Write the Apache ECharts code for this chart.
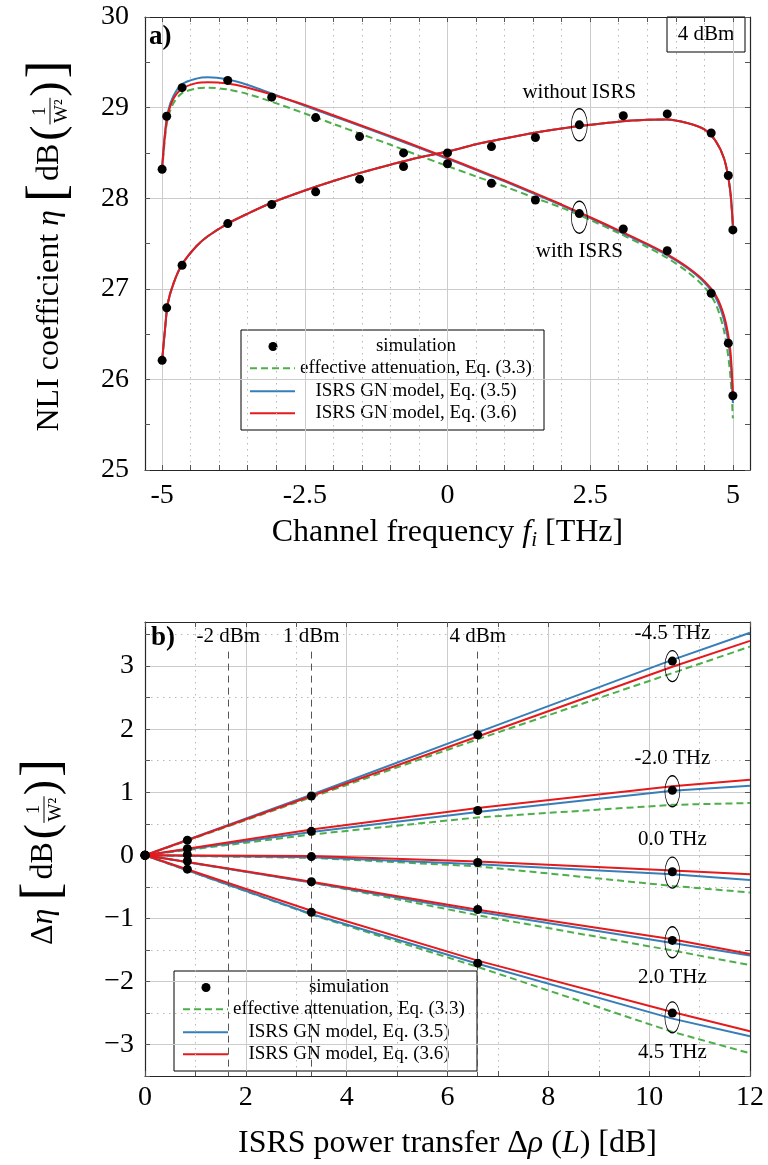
<!DOCTYPE html>
<html>
<head>
<meta charset="utf-8">
<script src="https://cdn.jsdelivr.net/npm/echarts@6/dist/echarts.min.js"></script>
<style>
  html, body { margin: 0; padding: 0; background: #fff; }
  #chart { width: 768px; height: 1165px; }
</style>
</head>
<body>
<div id="chart"></div>
<script>
// ---------- panel a): NLI coefficient vs channel frequency ----------
const freqTicks = [-5, -2.5, 0, 2.5, 5];
const freqSim = [-5, -4.92, -4.65, -3.85, -3.08, -2.31, -1.54, -0.77, 0, 0.77, 1.54, 2.31, 3.08, 3.85, 4.62, 4.92, 5];
const simWithIsrs = [28.32, 28.905, 29.22, 29.30, 29.115, 28.89, 28.68, 28.50, 28.38, 28.165, 27.98, 27.83, 27.66, 27.42, 26.95, 26.40, 25.82];
const simWithoutIsrs = [26.21, 26.79, 27.26, 27.72, 27.93, 28.07, 28.21, 28.35, 28.50, 28.57, 28.67, 28.81, 28.91, 28.93, 28.72, 28.25, 27.65];

const freqModel = [-5, -4.95, -4.9, -4.8, -4.65, -4.4, -4.2, -3.85, -3.5, -3.08, -2.5, -2, -1.5, -1, -0.5, 0, 0.5, 1, 1.5, 2, 2.5, 3, 3.5, 3.85, 4.2, 4.5, 4.7, 4.85, 4.95, 5];
const effWith = [28.30, 28.66, 28.88, 29.05, 29.16, 29.21, 29.22, 29.20, 29.15, 29.065, 28.935, 28.82, 28.705, 28.59, 28.47, 28.355, 28.24, 28.13, 28.01, 27.895, 27.76, 27.615, 27.46, 27.34, 27.19, 27.02, 26.83, 26.52, 26.08, 25.57];
const gn35With = [28.35, 28.72, 28.95, 29.13, 29.26, 29.32, 29.335, 29.31, 29.25, 29.155, 29.02, 28.905, 28.79, 28.675, 28.555, 28.435, 28.31, 28.185, 28.055, 27.92, 27.78, 27.635, 27.485, 27.37, 27.23, 27.07, 26.90, 26.64, 26.28, 25.74];
const gn36With = [28.33, 28.70, 28.92, 29.10, 29.21, 29.27, 29.28, 29.265, 29.22, 29.145, 29.03, 28.915, 28.80, 28.685, 28.565, 28.445, 28.32, 28.195, 28.065, 27.93, 27.79, 27.645, 27.495, 27.38, 27.24, 27.085, 26.93, 26.69, 26.35, 25.86];
const modelWithout = [26.21, 26.55, 26.84, 27.06, 27.27, 27.47, 27.58, 27.72, 27.83, 27.95, 28.085, 28.19, 28.285, 28.37, 28.45, 28.515, 28.595, 28.66, 28.72, 28.77, 28.81, 28.845, 28.865, 28.87, 28.83, 28.76, 28.63, 28.43, 28.10, 27.70];

const annotA = [
  { name: 'without ISRS', value: [2.31, 29.17] },
  { name: 'with ISRS', value: [2.31, 27.41] }
];
const ringsA = [[2.31, 28.81], [2.31, 27.79]];

// ---------- panel b): NLI change vs ISRS power transfer ----------
const rhoSim = [0, 0.84, 3.3, 6.6, 10.46];
const rhoModel = [0, 3.3, 6.6, 10.46, 12];
const powerNames = ['-2 dBm', '1 dBm', '4 dBm'];
const powerRho = [1.65, 3.3, 6.6];

const simM45 = [0, 0.24, 0.94, 1.91, 3.08];
const simM20 = [0, 0.105, 0.38, 0.71, 1.03];
const simZ00 = [0, 0.01, -0.02, -0.115, -0.26];
const simP20 = [0, -0.09, -0.42, -0.86, -1.35];
const simP45 = [0, -0.22, -0.905, -1.71, -2.50];

const effM45 = [0, 0.92, 1.84, 2.89, 3.31];
const effM20 = [0, 0.33, 0.60, 0.80, 0.83];
const effZ00 = [0, -0.04, -0.175, -0.485, -0.59];
const effP20 = [0, -0.43, -0.95, -1.51, -1.74];
const effP45 = [0, -0.94, -1.77, -2.80, -3.14];

const gn35M45 = [0, 0.96, 1.95, 3.10, 3.53];
const gn35M20 = [0, 0.37, 0.685, 1.025, 1.105];
const gn35Z00 = [0, -0.03, -0.14, -0.30, -0.39];
const gn35P20 = [0, -0.43, -0.895, -1.39, -1.59];
const gn35P45 = [0, -0.93, -1.72, -2.59, -2.87];

const gn36M45 = [0, 0.94, 1.885, 2.99, 3.40];
const gn36M20 = [0, 0.41, 0.75, 1.095, 1.20];
const gn36Z00 = [0, -0.01, -0.10, -0.24, -0.30];
const gn36P20 = [0, -0.42, -0.865, -1.33, -1.565];
const gn36P45 = [0, -0.88, -1.67, -2.485, -2.79];

const channelNames = ['-4.5 THz', '-2.0 THz', '0.0 THz', '2.0 THz', '4.5 THz'];
const channelLabelY = [3.52, 1.53, 0.25, -1.93, -3.12];
const channelRingY = [3.0, 1.015, -0.275, -1.38, -2.57];
const ringRho = 10.46;
const dEtaTicks = [-3, -2, -1, 0, 1, 2, 3];

const legendNames = ['simulation', 'effective attenuation, Eq. (3.3)', 'ISRS GN model, Eq. (3.5)', 'ISRS GN model, Eq. (3.6)'];

// ---------- styling ----------
const RED = '#e41a1c', BLUE = '#377eb8', GREEN = '#4daf4a';
const SERIF = '"Liberation Serif", "Times New Roman", serif';
const GRID_SOLID = { show: true, lineStyle: { color: '#cccccc', width: 1, type: 'solid' } };
const GRID_DOT = { show: true, lineStyle: { color: '#b8b8b8', width: 1, type: [1.5, 4.5] } };
const AXIS_LINE = { show: true, onZero: false, lineStyle: { color: '#262626', width: 1.2 } };
const NO_LINE = { show: false, onZero: false };
const TICK = { show: true, inside: true, length: 5, lineStyle: { color: '#555', width: 1 } };
const LABEL = { fontSize: 28, fontFamily: SERIF, color: '#000' };
const DASH = [7, 4];

const pairs = (xs, ys) => xs.map((x, i) => [x, ys[i]]);
const range = (a, b, step) => { const out = []; for (let v = a; v <= b + 1e-9; v += step) out.push(Math.round(v * 100) / 100); return out; };
const halfA = range(-5, 5, 0.5);
const minorA = halfA.filter(v => freqTicks.indexOf(v) < 0);
const halfB = range(-3.5, 3.5, 0.5);
const minorB = halfB.filter(v => dEtaTicks.indexOf(v) < 0);
const minus = v => (v < 0 ? '\u2212' + Math.abs(v) : String(v));

const xAxes = [
  // 0: panel a bottom axis with labels
  { gridIndex: 0, type: 'value', min: -5.3, max: 5.3, position: 'bottom',
    axisLine: AXIS_LINE, axisTick: Object.assign({}, TICK, { customValues: halfA }),
    axisLabel: Object.assign({}, LABEL, { customValues: freqTicks, margin: 12, formatter: v => String(v) }),
    splitLine: { show: false },
    name: '{n|Channel frequency }{i|f}{s|i}{n| [THz]}', nameLocation: 'middle', nameGap: 44,
    nameTextStyle: { rich: {
      n: { fontSize: 32, fontFamily: SERIF, color: '#000' },
      i: { fontSize: 32, fontFamily: SERIF, fontStyle: 'italic', color: '#000' },
      s: { fontSize: 21, fontFamily: SERIF, fontStyle: 'italic', color: '#000', padding: [16, 0, 0, 0] } } } },
  // 1: panel a top frame
  { gridIndex: 0, type: 'value', min: -5.3, max: 5.3, position: 'top',
    axisLine: AXIS_LINE, axisTick: Object.assign({}, TICK, { customValues: halfA }),
    axisLabel: { show: false }, splitLine: { show: false } },
  // 2: panel a major vertical grid
  { gridIndex: 0, type: 'value', min: -5.3, max: 5.3,
    axisLine: NO_LINE, axisTick: { show: false, customValues: freqTicks },
    axisLabel: { show: false }, splitLine: GRID_SOLID },
  // 3: panel a minor vertical grid
  { gridIndex: 0, type: 'value', min: -5.3, max: 5.3,
    axisLine: NO_LINE, axisTick: { show: false, customValues: minorA },
    axisLabel: { show: false }, splitLine: GRID_DOT },
  // 4: panel b bottom axis with labels
  { gridIndex: 1, type: 'value', min: 0, max: 12, interval: 2, position: 'bottom',
    axisLine: AXIS_LINE, axisTick: TICK,
    minorTick: { show: true, splitNumber: 2, length: 5, lineStyle: { color: '#555' } },
    axisLabel: Object.assign({}, LABEL, { margin: 8 }),
    splitLine: GRID_SOLID, minorSplitLine: GRID_DOT,
    name: '{n|ISRS power transfer \u0394}{i|\u03c1}{n| (}{i|L}{n|) [dB]}', nameLocation: 'middle', nameGap: 52,
    nameTextStyle: { rich: {
      n: { fontSize: 32, fontFamily: SERIF, color: '#000' },
      i: { fontSize: 32, fontFamily: SERIF, fontStyle: 'italic', color: '#000' } } } },
  // 5: panel b top frame
  { gridIndex: 1, type: 'value', min: 0, max: 12, interval: 2, position: 'top',
    axisLine: AXIS_LINE, axisTick: TICK,
    minorTick: { show: true, splitNumber: 2, length: 5, lineStyle: { color: '#555' } },
    axisLabel: { show: false }, splitLine: { show: false } }
];

const yAxes = [
  // 0: panel a left axis
  { gridIndex: 0, type: 'value', min: 25, max: 30, interval: 1, position: 'left',
    axisLine: AXIS_LINE, axisTick: TICK,
    minorTick: { show: true, splitNumber: 2, length: 5, lineStyle: { color: '#555' } },
    axisLabel: Object.assign({}, LABEL, { margin: 16, showMinLabel: true, showMaxLabel: true }),
    splitLine: GRID_SOLID },
  // 1: panel a right frame
  { gridIndex: 0, type: 'value', min: 25, max: 30, interval: 1, position: 'right',
    axisLine: AXIS_LINE, axisTick: TICK,
    minorTick: { show: true, splitNumber: 2, length: 5, lineStyle: { color: '#555' } },
    axisLabel: { show: false }, splitLine: { show: false } },
  // 2: panel b left axis
  { gridIndex: 1, type: 'value', min: -3.5, max: 3.7, position: 'left',
    axisLine: AXIS_LINE, axisTick: Object.assign({}, TICK, { customValues: halfB }),
    axisLabel: Object.assign({}, LABEL, { margin: 11, customValues: dEtaTicks, formatter: minus }),
    splitLine: { show: false } },
  // 3: panel b right frame
  { gridIndex: 1, type: 'value', min: -3.5, max: 3.7, position: 'right',
    axisLine: AXIS_LINE, axisTick: Object.assign({}, TICK, { customValues: halfB }),
    axisLabel: { show: false }, splitLine: { show: false } },
  // 4: panel b major horizontal grid
  { gridIndex: 1, type: 'value', min: -3.5, max: 3.7,
    axisLine: NO_LINE, axisTick: { show: false, customValues: dEtaTicks },
    axisLabel: { show: false }, splitLine: GRID_SOLID },
  // 5: panel b minor horizontal grid
  { gridIndex: 1, type: 'value', min: -3.5, max: 3.7,
    axisLine: NO_LINE, axisTick: { show: false, customValues: minorB },
    axisLabel: { show: false }, splitLine: GRID_DOT }
];

function curve(name, xs, ys, color, dashed, xi, yi, smooth) {
  return {
    name, type: 'line', xAxisIndex: xi, yAxisIndex: yi, data: pairs(xs, ys),
    showSymbol: false, symbol: 'none', smooth: smooth ? 0.3 : false,
    lineStyle: { color, width: 2, opacity: 1, type: dashed ? DASH : 'solid' }, silent: true, z: 3
  };
}
function dots(name, xs, ys, xi, yi) {
  return {
    name, type: 'scatter', xAxisIndex: xi, yAxisIndex: yi, data: pairs(xs, ys),
    symbol: 'circle', symbolSize: 9, itemStyle: { color: '#000', opacity: 1 }, clip: false, silent: true, z: 5
  };
}
function rings(data, size, xi, yi) {
  return {
    type: 'scatter', xAxisIndex: xi, yAxisIndex: yi, data,
    symbol: 'circle', symbolSize: size,
    itemStyle: { color: 'rgba(0,0,0,0)', borderColor: '#000', borderWidth: 1, opacity: 1 }, silent: true, z: 6
  };
}
function notes(data, xi, yi) {
  return {
    type: 'scatter', xAxisIndex: xi, yAxisIndex: yi, data, symbolSize: 0, silent: true, z: 6,
    itemStyle: { opacity: 1 },
    label: { show: true, position: 'inside', formatter: '{b}', fontSize: 21, fontFamily: SERIF,
      color: '#000', opacity: 1, textBorderWidth: 0, textBorderColor: 'transparent' }
  };
}

const series = [];
// panel a
series.push(curve('effective attenuation, Eq. (3.3)', freqModel, modelWithout, GREEN, true, 0, 0, true));
series.push(curve('effective attenuation, Eq. (3.3)', freqModel, effWith, GREEN, true, 0, 0, true));
series.push(curve('ISRS GN model, Eq. (3.5)', freqModel, modelWithout, BLUE, false, 0, 0, true));
series.push(curve('ISRS GN model, Eq. (3.5)', freqModel, gn35With, BLUE, false, 0, 0, true));
series.push(curve('ISRS GN model, Eq. (3.6)', freqModel, modelWithout, RED, false, 0, 0, true));
series.push(curve('ISRS GN model, Eq. (3.6)', freqModel, gn36With, RED, false, 0, 0, true));
series.push(dots('simulation', freqSim, simWithIsrs, 0, 0));
series.push(dots('simulation', freqSim, simWithoutIsrs, 0, 0));
series.push(rings(ringsA, [16, 32], 0, 0));
series.push(notes(annotA, 0, 0));

// panel b
const effB = [effM45, effM20, effZ00, effP20, effP45];
const gn35B = [gn35M45, gn35M20, gn35Z00, gn35P20, gn35P45];
const gn36B = [gn36M45, gn36M20, gn36Z00, gn36P20, gn36P45];
const simB = [simM45, simM20, simZ00, simP20, simP45];

// launch power markers
series.push({
  type: 'line', xAxisIndex: 4, yAxisIndex: 2, data: [], silent: true, z: 2,
  markLine: {
    silent: true, symbol: ['none', 'none'], animation: false,
    lineStyle: { color: '#555', width: 1, type: [7, 5] },
    label: { show: true, position: 'start', distance: 5, formatter: '{b}', fontSize: 21, fontFamily: SERIF, color: '#000' },
    data: powerRho.map((r, i) => [{ coord: [r, 3.23], name: powerNames[i] }, { coord: [r, -3.5] }])
  }
});
effB.forEach((ys, i) => series.push(curve('effective attenuation, Eq. (3.3) ' + channelNames[i], rhoModel, ys, GREEN, true, 4, 2, false)));
gn35B.forEach((ys, i) => series.push(curve('ISRS GN model, Eq. (3.5) ' + channelNames[i], rhoModel, ys, BLUE, false, 4, 2, false)));
gn36B.forEach((ys, i) => series.push(curve('ISRS GN model, Eq. (3.6) ' + channelNames[i], rhoModel, ys, RED, false, 4, 2, false)));
simB.forEach((ys, i) => series.push(dots('simulation ' + channelNames[i], rhoSim, ys, 4, 2)));
series.push(rings(channelRingY.map(y => [ringRho, y]), [15, 31], 4, 2));
series.push(notes(channelNames.map((n, i) => ({ name: n, value: [ringRho, channelLabelY[i]] })), 4, 2));

// ---------- graphic helpers ----------
const measureCtx = document.createElement('canvas').getContext('2d');
function textWidth(t, font) { measureCtx.font = font; return measureCtx.measureText(t).width; }

// vertical axis title laid out left-to-right, then turned to read bottom-to-top
function verticalTitle(cx, cy, pieces) {
  const items = [];
  let x = 0;
  pieces.forEach(p => {
    if (p.num) {
      const font = p.size + 'px ' + SERIF;
      const w = Math.max(textWidth(p.num, font), textWidth(p.den, font)) + 3;
      items.push({ kind: 'text', t: p.num, font, x: x + w / 2, y: -p.size * 0.55 });
      items.push({ kind: 'bar', x1: x, x2: x + w });
      items.push({ kind: 'text', t: p.den, font, x: x + w / 2, y: p.size * 0.62 });
      x += w + (p.after || 0);
    } else {
      const font = (p.italic ? 'italic ' : '') + p.size + 'px ' + SERIF;
      const w = textWidth(p.t, font);
      items.push({ kind: 'text', t: p.t, font, x: x + w / 2, y: p.dy || 0 });
      x += w + (p.after || 0);
    }
  });
  const half = x / 2;
  const children = items.map(it => it.kind === 'bar'
    ? { type: 'line', shape: { x1: it.x1 - half, y1: 0, x2: it.x2 - half, y2: 0 }, style: { stroke: '#000', lineWidth: 1 } }
    : { type: 'text', x: it.x - half, y: it.y,
        style: { text: it.t, font: it.font, fill: '#000', align: 'center', verticalAlign: 'middle', textAlign: 'center', textVerticalAlign: 'middle' } });
  return { type: 'group', x: cx, y: cy, rotation: Math.PI / 2, children, z: 50 };
}

function legendBox(left, top) {
  const w = 303, h = 100, rows = [16.5, 38.3, 61.3, 83.2];
  const children = [
    { type: 'rect', shape: { x: 0, y: 0, width: w, height: h }, style: { fill: '#fff', stroke: '#000', lineWidth: 1 } },
    { type: 'circle', shape: { cx: 32, cy: rows[0], r: 4.5 }, style: { fill: '#000' } }
  ];
  [[GREEN, DASH], [BLUE, null], [RED, null]].forEach((d, i) => children.push({
    type: 'line', shape: { x1: 9, y1: rows[i + 1], x2: 54, y2: rows[i + 1] },
    style: { stroke: d[0], lineWidth: 2, lineDash: d[1] }
  }));
  legendNames.forEach((n, i) => children.push({
    type: 'text', x: 175, y: rows[i],
    style: { text: n, font: '19px ' + SERIF, fill: '#000', align: 'center', verticalAlign: 'middle', textAlign: 'center', textVerticalAlign: 'middle' }
  }));
  return { type: 'group', x: left, y: top, children, z: 100 };
}

const titlePieces = [
  { t: '[', size: 54, after: 3 }, { t: 'dB', size: 32, after: 3 },
  { t: '(', size: 46, after: 1 }, { num: '1', den: 'W\u00b2', size: 19, after: 1 },
  { t: ')', size: 46, after: 3 }, { t: ']', size: 54 }
];

const graphic = [
  { type: 'text', x: 149, y: 37, z: 60,
    style: { text: 'a)', font: 'bold 27px ' + SERIF, fill: '#000', verticalAlign: 'middle', textVerticalAlign: 'middle' } },
  { type: 'text', x: 151, y: 638, z: 60,
    style: { text: 'b)', font: 'bold 27px ' + SERIF, fill: '#000', verticalAlign: 'middle', textVerticalAlign: 'middle' } },
  { type: 'group', x: 667, y: 17, z: 60, children: [
    { type: 'rect', shape: { x: 0, y: 0, width: 78, height: 35 }, style: { fill: '#fff', stroke: '#000', lineWidth: 1 } },
    { type: 'text', x: 39, y: 17.5, style: { text: '4 dBm', font: '21px ' + SERIF, fill: '#000', align: 'center', verticalAlign: 'middle', textAlign: 'center', textVerticalAlign: 'middle' } }
  ] },
  legendBox(241, 330),
  legendBox(174, 971),
  verticalTitle(50, 246, [{ t: 'NLI coefficient ', size: 32 }, { t: '\u03b7', size: 32, italic: true, after: 8 }].concat(titlePieces)),
  verticalTitle(44, 852, [{ t: '\u0394', size: 32 }, { t: '\u03b7', size: 32, italic: true, after: 8 }].concat(titlePieces))
];

const chart = echarts.init(document.getElementById('chart'), null, { renderer: 'canvas' });
chart.setOption({
  backgroundColor: '#fff',
  animation: false,
  textStyle: { fontFamily: SERIF },
  grid: [
    { left: 145, top: 17, width: 605, height: 453, outerBoundsMode: 'none', containLabel: false },
    { left: 145, top: 622, width: 605, height: 454, outerBoundsMode: 'none', containLabel: false }
  ],
  xAxis: xAxes,
  yAxis: yAxes,
  series,
  graphic
});
</script>
</body>
</html>
